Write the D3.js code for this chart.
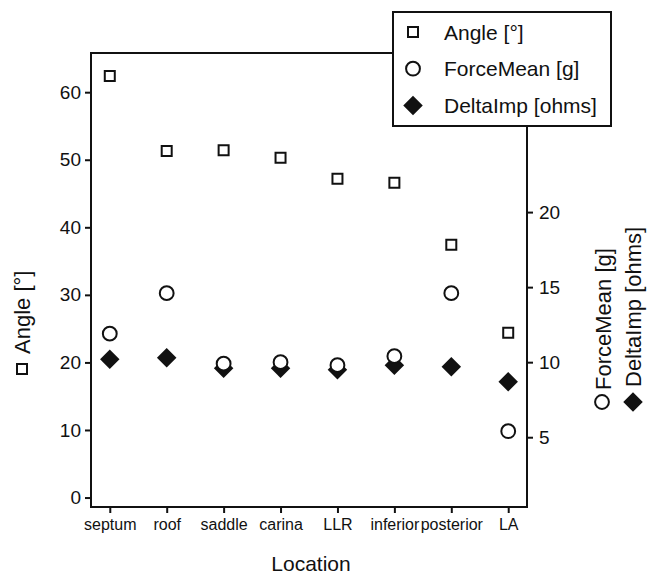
<!DOCTYPE html>
<html>
<head>
<meta charset="utf-8">
<script src="https://cdn.jsdelivr.net/npm/d3@7"></script>
<style>
  body { margin: 0; background: #fff; }
  svg text { font-family: "Liberation Sans", Arial, sans-serif; fill: #111; }
</style>
</head>
<body>
<svg id="chart" width="647" height="575"></svg>
<script>
// values
const locations = ["septum", "roof", "saddle", "carina", "LLR", "inferior", "posterior", "LA"];
const angle = [62.4, 51.3, 51.4, 50.3, 47.2, 46.6, 37.4, 24.4];      // left axis, degrees
const forceMean = [11.9, 14.6, 9.9, 10.0, 9.8, 10.4, 14.6, 5.4];     // right axis, g
const deltaImp = [10.2, 10.3, 9.6, 9.6, 9.5, 9.8, 9.7, 8.7];         // right axis, ohms
const leftTicks = [0, 10, 20, 30, 40, 50, 60];
const rightTicks = [5, 10, 15, 20];

const svg = d3.select("svg#chart");
const plot = { left: 91, right: 527, top: 53, bottom: 507 };

const x = d3.scalePoint().domain(locations)
  .range([plot.left, plot.right]).padding(0.33);
const yLeft = d3.scaleLinear().domain([-1.4, 65.8]).range([plot.bottom, plot.top]);
const yRight = d3.scaleLinear().domain([0.35, 30.6]).range([plot.bottom, plot.top]);

const sq = d3.symbol().type(d3.symbolSquare).size(100);
const circ = d3.symbol().type(d3.symbolCircle).size(150);
const dia = d3.symbol().type(d3.symbolSquare).size(190);

// axes
const styleAxis = (g, size) => {
  g.select(".domain").remove();
  g.selectAll(".tick line").attr("stroke", "#111").attr("stroke-width", 2);
  g.selectAll(".tick text").style("font-size", size + "px").attr("fill", "#111");
};

svg.append("g")
  .attr("transform", `translate(${plot.left},0)`)
  .call(d3.axisLeft(yLeft).tickValues(leftTicks).tickSize(6).tickPadding(4))
  .call(g => styleAxis(g, 19));

svg.append("g")
  .attr("transform", `translate(${plot.right},0)`)
  .call(d3.axisRight(yRight).tickValues(rightTicks).tickSize(6).tickPadding(6))
  .call(g => styleAxis(g, 19));

svg.append("g")
  .attr("transform", `translate(0,${plot.bottom})`)
  .call(d3.axisBottom(x).tickSize(6).tickPadding(6))
  .call(g => styleAxis(g, 16));

// frame
svg.append("rect")
  .attr("x", plot.left).attr("y", plot.top)
  .attr("width", plot.right - plot.left).attr("height", plot.bottom - plot.top)
  .attr("fill", "none").attr("stroke", "#111").attr("stroke-width", 2);

// points
svg.append("g").selectAll("path").data(angle).join("path")
  .attr("d", sq)
  .attr("transform", (d, i) => `translate(${x(locations[i])},${yLeft(d)})`)
  .attr("fill", "white").attr("stroke", "#111").attr("stroke-width", 2);

svg.append("g").selectAll("path").data(deltaImp).join("path")
  .attr("d", dia)
  .attr("transform", (d, i) => `translate(${x(locations[i])},${yRight(d)}) rotate(45)`)
  .attr("fill", "#111");

svg.append("g").selectAll("path").data(forceMean).join("path")
  .attr("d", circ)
  .attr("transform", (d, i) => `translate(${x(locations[i])},${yRight(d)})`)
  .attr("fill", "white").attr("stroke", "#111").attr("stroke-width", 2);

// axis titles
svg.append("text")
  .attr("x", (plot.left + plot.right) / 2 + 2).attr("y", 571)
  .attr("text-anchor", "middle").style("font-size", "21px")
  .text("Location");

const titles = [
  { sym: sq, fill: "white", stroke: true, sx: 22, sy: 369, tx: 30, ty: 354, label: "Angle [°]" },
  { sym: circ, fill: "white", stroke: true, sx: 602, sy: 402, tx: 611, ty: 390, label: "ForceMean [g]" },
  { sym: dia, fill: "#111", stroke: false, rot: 45, sx: 633, sy: 402, tx: 641, ty: 387, label: "DeltaImp [ohms]" }
];
titles.forEach(t => {
  svg.append("path").attr("d", t.sym)
    .attr("transform", `translate(${t.sx},${t.sy})` + (t.rot ? ` rotate(${t.rot})` : ""))
    .attr("fill", t.fill)
    .attr("stroke", t.stroke ? "#111" : "none").attr("stroke-width", 2);
  svg.append("text")
    .attr("transform", `translate(${t.tx},${t.ty}) rotate(-90)`)
    .style("font-size", "22px")
    .text(t.label);
});

// legend
const legend = svg.append("g").attr("transform", "translate(393,12)");
legend.append("rect")
  .attr("width", 218).attr("height", 114)
  .attr("fill", "white").attr("stroke", "#111").attr("stroke-width", 2);
const legendItems = [
  { sym: sq, fill: "white", stroke: true, label: "Angle [°]" },
  { sym: circ, fill: "white", stroke: true, label: "ForceMean [g]" },
  { sym: dia, fill: "#111", stroke: false, rot: 45, label: "DeltaImp [ohms]" }
];
legendItems.forEach((d, i) => {
  const cy = 20 + 36.7 * i;
  legend.append("path").attr("d", d.sym)
    .attr("transform", `translate(20,${cy})` + (d.rot ? ` rotate(${d.rot})` : ""))
    .attr("fill", d.fill)
    .attr("stroke", d.stroke ? "#111" : "none").attr("stroke-width", 2);
  legend.append("text")
    .attr("x", 51).attr("y", cy + 7.5)
    .style("font-size", "21px")
    .text(d.label);
});
</script>
</body>
</html>
